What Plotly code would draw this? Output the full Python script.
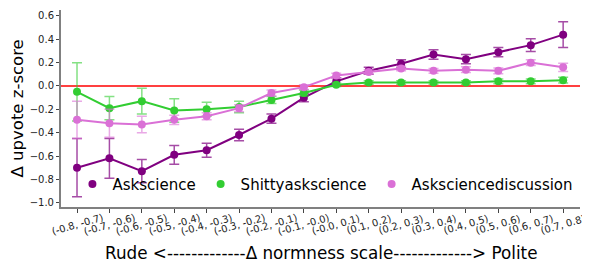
import plotly.graph_objects as go

tick_labels = ["(-0.8, -0.7)", "(-0.7, -0.6)", "(-0.6, -0.5)", "(-0.5, -0.4)",
               "(-0.4, -0.3)", "(-0.3, -0.2)", "(-0.2, -0.1)", "(-0.1, -0.0)",
               "(-0.0, 0.1)", "(0.1, 0.2)", "(0.2, 0.3)", "(0.3, 0.4)",
               "(0.4, 0.5)", "(0.5, 0.6)", "(0.6, 0.7)", "(0.7, 0.8)"]
x_idx = list(range(len(tick_labels)))

askscience = [-0.70, -0.62, -0.73, -0.59, -0.55, -0.42, -0.28, -0.10,
              0.04, 0.13, 0.19, 0.27, 0.23, 0.29, 0.35, 0.44]
askscience_err = [0.25, 0.17, 0.10, 0.08, 0.06, 0.05, 0.04, 0.035,
                  0.03, 0.03, 0.035, 0.04, 0.04, 0.04, 0.055, 0.11]
shitty = [-0.05, -0.19, -0.13, -0.21, -0.20, -0.18, -0.12, -0.06,
          0.01, 0.03, 0.03, 0.03, 0.03, 0.04, 0.04, 0.05]
shitty_err = [0.25, 0.10, 0.11, 0.10, 0.06, 0.05, 0.03, 0.025,
              0.015, 0.015, 0.015, 0.015, 0.015, 0.02, 0.02, 0.025]
discussion = [-0.29, -0.32, -0.33, -0.29, -0.26, -0.19, -0.06, -0.01,
              0.09, 0.12, 0.15, 0.13, 0.14, 0.13, 0.20, 0.16]
discussion_err = [0.16, 0.12, 0.07, 0.04, 0.03, 0.03, 0.025, 0.02,
                  0.02, 0.02, 0.02, 0.02, 0.025, 0.025, 0.025, 0.035]

series_names = ["Askscience", "Shittyaskscience", "Asksciencediscussion"]
series_vals = [askscience, shitty, discussion]
series_errs = [askscience_err, shitty_err, discussion_err]
colors = ["#800080", "#32CD32", "#DA70D6"]
err_colors = ["rgba(128,0,128,0.7)", "rgba(50,205,50,0.6)", "rgba(218,112,214,0.6)"]

x_title = "Rude <-------------Δ normness scale-------------> Polite"
y_title = "Δ upvote z-score"

fig = go.Figure()

for name, vals, errs, c, ec in zip(series_names, series_vals, series_errs, colors, err_colors):
    fig.add_trace(go.Scatter(
        x=x_idx, y=vals, mode="lines+markers", name=name, showlegend=False,
        line=dict(color=c, width=2), marker=dict(color=c, size=8),
        error_y=dict(type="data", array=errs, visible=True, color=ec,
                     thickness=1.5, width=5),
    ))
for name, c in zip(series_names, colors):
    fig.add_trace(go.Scatter(x=[None], y=[None], mode="markers", name=name,
                             marker=dict(color=c, size=8)))

fig.add_shape(type="line", xref="paper", yref="y", x0=0, x1=1, y0=0, y1=0,
              line=dict(color="red", width=1.5), layer="below")

for i, lab in enumerate(tick_labels):
    fig.add_annotation(x=i, xref="x", y=-0.089, yref="paper",
                       text=lab, textangle=-16, showarrow=False,
                       xanchor="center", yanchor="middle",
                       font=dict(size=10, color="#222", family="DejaVu Sans"))

fig.add_annotation(x=0.5, xref="paper", y=-0.234, yref="paper", text=x_title,
                   showarrow=False, xanchor="center", yanchor="middle",
                   font=dict(size=16.8, color="black", family="DejaVu Sans"))
fig.add_annotation(x=-0.083, xref="paper", y=0.5, yref="paper", text=y_title,
                   textangle=-90, showarrow=False, xanchor="center", yanchor="middle",
                   font=dict(size=16.5, color="black", family="DejaVu Sans"))

# page body has an 8px default margin, so the figure is drawn 8px smaller
fig.update_layout(
    width=582, height=259,
    margin=dict(l=53, r=10, t=2, b=60, autoexpand=False),
    plot_bgcolor="white", paper_bgcolor="white",
    font=dict(family="DejaVu Sans", color="#222"),
    legend=dict(orientation="h", x=0.022, y=0.115, xanchor="left", yanchor="middle",
                font=dict(size=15, color="black", family="DejaVu Sans"),
                bgcolor="rgba(0,0,0,0)",
                itemwidth=30, tracegroupgap=0, borderwidth=0),
    xaxis=dict(range=[-0.494, 15.52], tickvals=x_idx, ticktext=[""] * len(x_idx),
               showgrid=False, zeroline=False, showline=True, linecolor="#808080",
               linewidth=2, ticks="outside", ticklen=4, tickcolor="#444",
               automargin=False),
    yaxis=dict(range=[-1.037, 0.651], tickvals=[0.6, 0.4, 0.2, 0.0, -0.2, -0.4, -0.6, -0.8, -1.0],
               tickformat=".1f", showgrid=False, zeroline=False, showline=True,
               linecolor="#808080", linewidth=2, ticks="outside", ticklen=3,
               tickcolor="#444", tickfont=dict(size=10), automargin=False),
)

fig.write_html("out.html")
